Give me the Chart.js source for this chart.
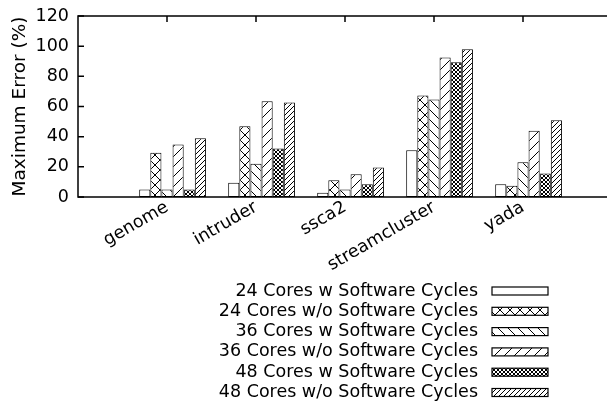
<!DOCTYPE html>
<html>
<head>
<meta charset="utf-8">
<script src="https://cdn.jsdelivr.net/npm/chart.js@4.4.0/dist/chart.umd.min.js"></script>
<style>
  html, body { margin: 0; padding: 0; background: #fff; overflow: hidden; }
  canvas { display: block; }
</style>
</head>
<body>
<canvas id="myChart" width="612" height="405"></canvas>
<script>
const categories = ['genome', 'intruder', 'ssca2', 'streamcluster', 'yada']
const seriesLabels = [
    '24 Cores w Software Cycles',
    '24 Cores w/o Software Cycles',
    '36 Cores w Software Cycles',
    '36 Cores w/o Software Cycles',
    '48 Cores w Software Cycles',
    '48 Cores w/o Software Cycles'
]
const cores24With = [4.9, 9.5, 2.9, 31, 8.4]
const cores24Without = [29.4, 46.9, 11.1, 67.3, 7.5]
const cores36With = [4.9, 22.1, 4.9, 64.6, 23]
const cores36Without = [34.8, 63.5, 15.1, 92.5, 44]
const cores48With = [4.9, 32.1, 8.4, 89.4, 15.5]
const cores48Without = [39, 62.7, 19.5, 97.9, 50.9]
const yTicks = [0, 20, 40, 60, 80, 100, 120]

const FONT = '"DejaVu Sans", sans-serif'
const FONT_SIZE = 17.5

// hatch fills, gnuplot style
const makePattern = (size, lines) => {
    const c = document.createElement('canvas')
    c.width = size
    c.height = size
    const ctx = c.getContext('2d')
    ctx.fillStyle = '#fff'
    ctx.fillRect(0, 0, size, size)
    ctx.strokeStyle = '#000'
    ctx.lineWidth = 1
    ctx.beginPath()
    if (lines.includes('/')) {
        ctx.moveTo(-1, size + 1); ctx.lineTo(size + 1, -1)
        ctx.moveTo(-1, 1); ctx.lineTo(1, -1)
        ctx.moveTo(size - 1, size + 1); ctx.lineTo(size + 1, size - 1)
    }
    if (lines.includes('\\')) {
        ctx.moveTo(-1, -1); ctx.lineTo(size + 1, size + 1)
        ctx.moveTo(size - 1, -1); ctx.lineTo(size + 1, 1)
        ctx.moveTo(-1, size - 1); ctx.lineTo(1, size + 1)
    }
    ctx.stroke()
    return ctx.createPattern(c, 'repeat')
}

const fills = [
    '#fff',
    makePattern(10, '/\\'),
    makePattern(10, '\\'),
    makePattern(10, '/'),
    makePattern(4, '/\\'),
    makePattern(5, '/')
]
const seriesValues = [cores24With, cores24Without, cores36With, cores36Without, cores48With, cores48Without]

// gnuplot clustered histogram: bars sit 1/16 right of the tick
const toPoints = (values) => values.map((v, k) => ({ x: k + 0.0625, y: v }))

const frame = {
    id: 'frame',
    afterDatasetsDraw(chart) {
        const { ctx, chartArea: a, scales: { x, y } } = chart
        ctx.save()
        ctx.strokeStyle = '#000'
        ctx.lineWidth = 1.5
        ctx.strokeRect(a.left, a.top, a.right - a.left, a.bottom - a.top)
        ctx.beginPath()
        categories.forEach((c, k) => {
            const px = x.getPixelForValue(k)
            ctx.moveTo(px, a.top)
            ctx.lineTo(px, a.top + 6)
        })
        yTicks.forEach(v => {
            const py = y.getPixelForValue(v)
            ctx.moveTo(a.left, py)
            ctx.lineTo(a.left + 6, py)
        })
        ctx.stroke()
        ctx.restore()
    }
}

const sideLegend = {
    id: 'sideLegend',
    afterDraw(chart) {
        const ctx = chart.ctx
        ctx.save()
        ctx.font = FONT_SIZE + 'px ' + FONT
        ctx.textAlign = 'right'
        ctx.textBaseline = 'middle'
        chart.data.datasets.forEach((ds, i) => {
            const yc = 291 + i * 20.3
            ctx.fillStyle = '#000'
            ctx.fillText(ds.label, 478, yc)
            ctx.fillStyle = ds.backgroundColor
            ctx.fillRect(492, yc - 4, 56, 8)
            ctx.strokeStyle = '#000'
            ctx.lineWidth = 1.2
            ctx.strokeRect(492, yc - 4, 56, 8)
        })
        ctx.restore()
    }
}

const datasets = seriesValues.map((values, i) => ({
    label: seriesLabels[i],
    data: toPoints(values),
    backgroundColor: fills[i],
    borderColor: '#000',
    borderWidth: 1,
    borderSkipped: false,
    barPercentage: 1,
    categoryPercentage: 0.75
}))

const config = {
    type: 'bar',
    data: { datasets: datasets },
    plugins: [frame, sideLegend],
    options: {
        responsive: false,
        animation: false,
        devicePixelRatio: 1,
        layout: { padding: { top: 16, bottom: 130, left: 0, right: 0 } },
        plugins: {
            legend: { display: false },
            tooltip: { enabled: false }
        },
        scales: {
            x: {
                type: 'linear',
                min: -1,
                max: 5,
                offset: false,
                grid: { display: false, drawTicks: false, offset: false },
                border: { display: false },
                ticks: {
                    stepSize: 1,
                    autoSkip: false,
                    minRotation: 30,
                    maxRotation: 30,
                    padding: 0,
                    color: '#000',
                    font: { family: FONT, size: FONT_SIZE },
                    callback: (v) => categories[v] || ''
                },
                afterFit: (s) => {
                    s.height = 78
                    s.paddingLeft = 0
                    s.paddingRight = 0
                }
            },
            y: {
                min: 0,
                max: 120,
                grid: { display: false, drawTicks: false },
                border: { display: false },
                afterBuildTicks: (s) => { s.ticks = yTicks.map(v => ({ value: v })) },
                ticks: {
                    padding: 9,
                    color: '#000',
                    font: { family: FONT, size: FONT_SIZE }
                },
                title: {
                    display: true,
                    text: 'Maximum Error (%)',
                    color: '#000',
                    font: { family: FONT, size: 18.5 },
                    padding: { top: 9, bottom: 0 }
                },
                afterFit: (s) => {
                    s.width = 78
                    s.paddingTop = 0
                    s.paddingBottom = 0
                }
            }
        }
    }
}

const myChart = new Chart(document.getElementById('myChart'), config)
</script>
</body>
</html>
